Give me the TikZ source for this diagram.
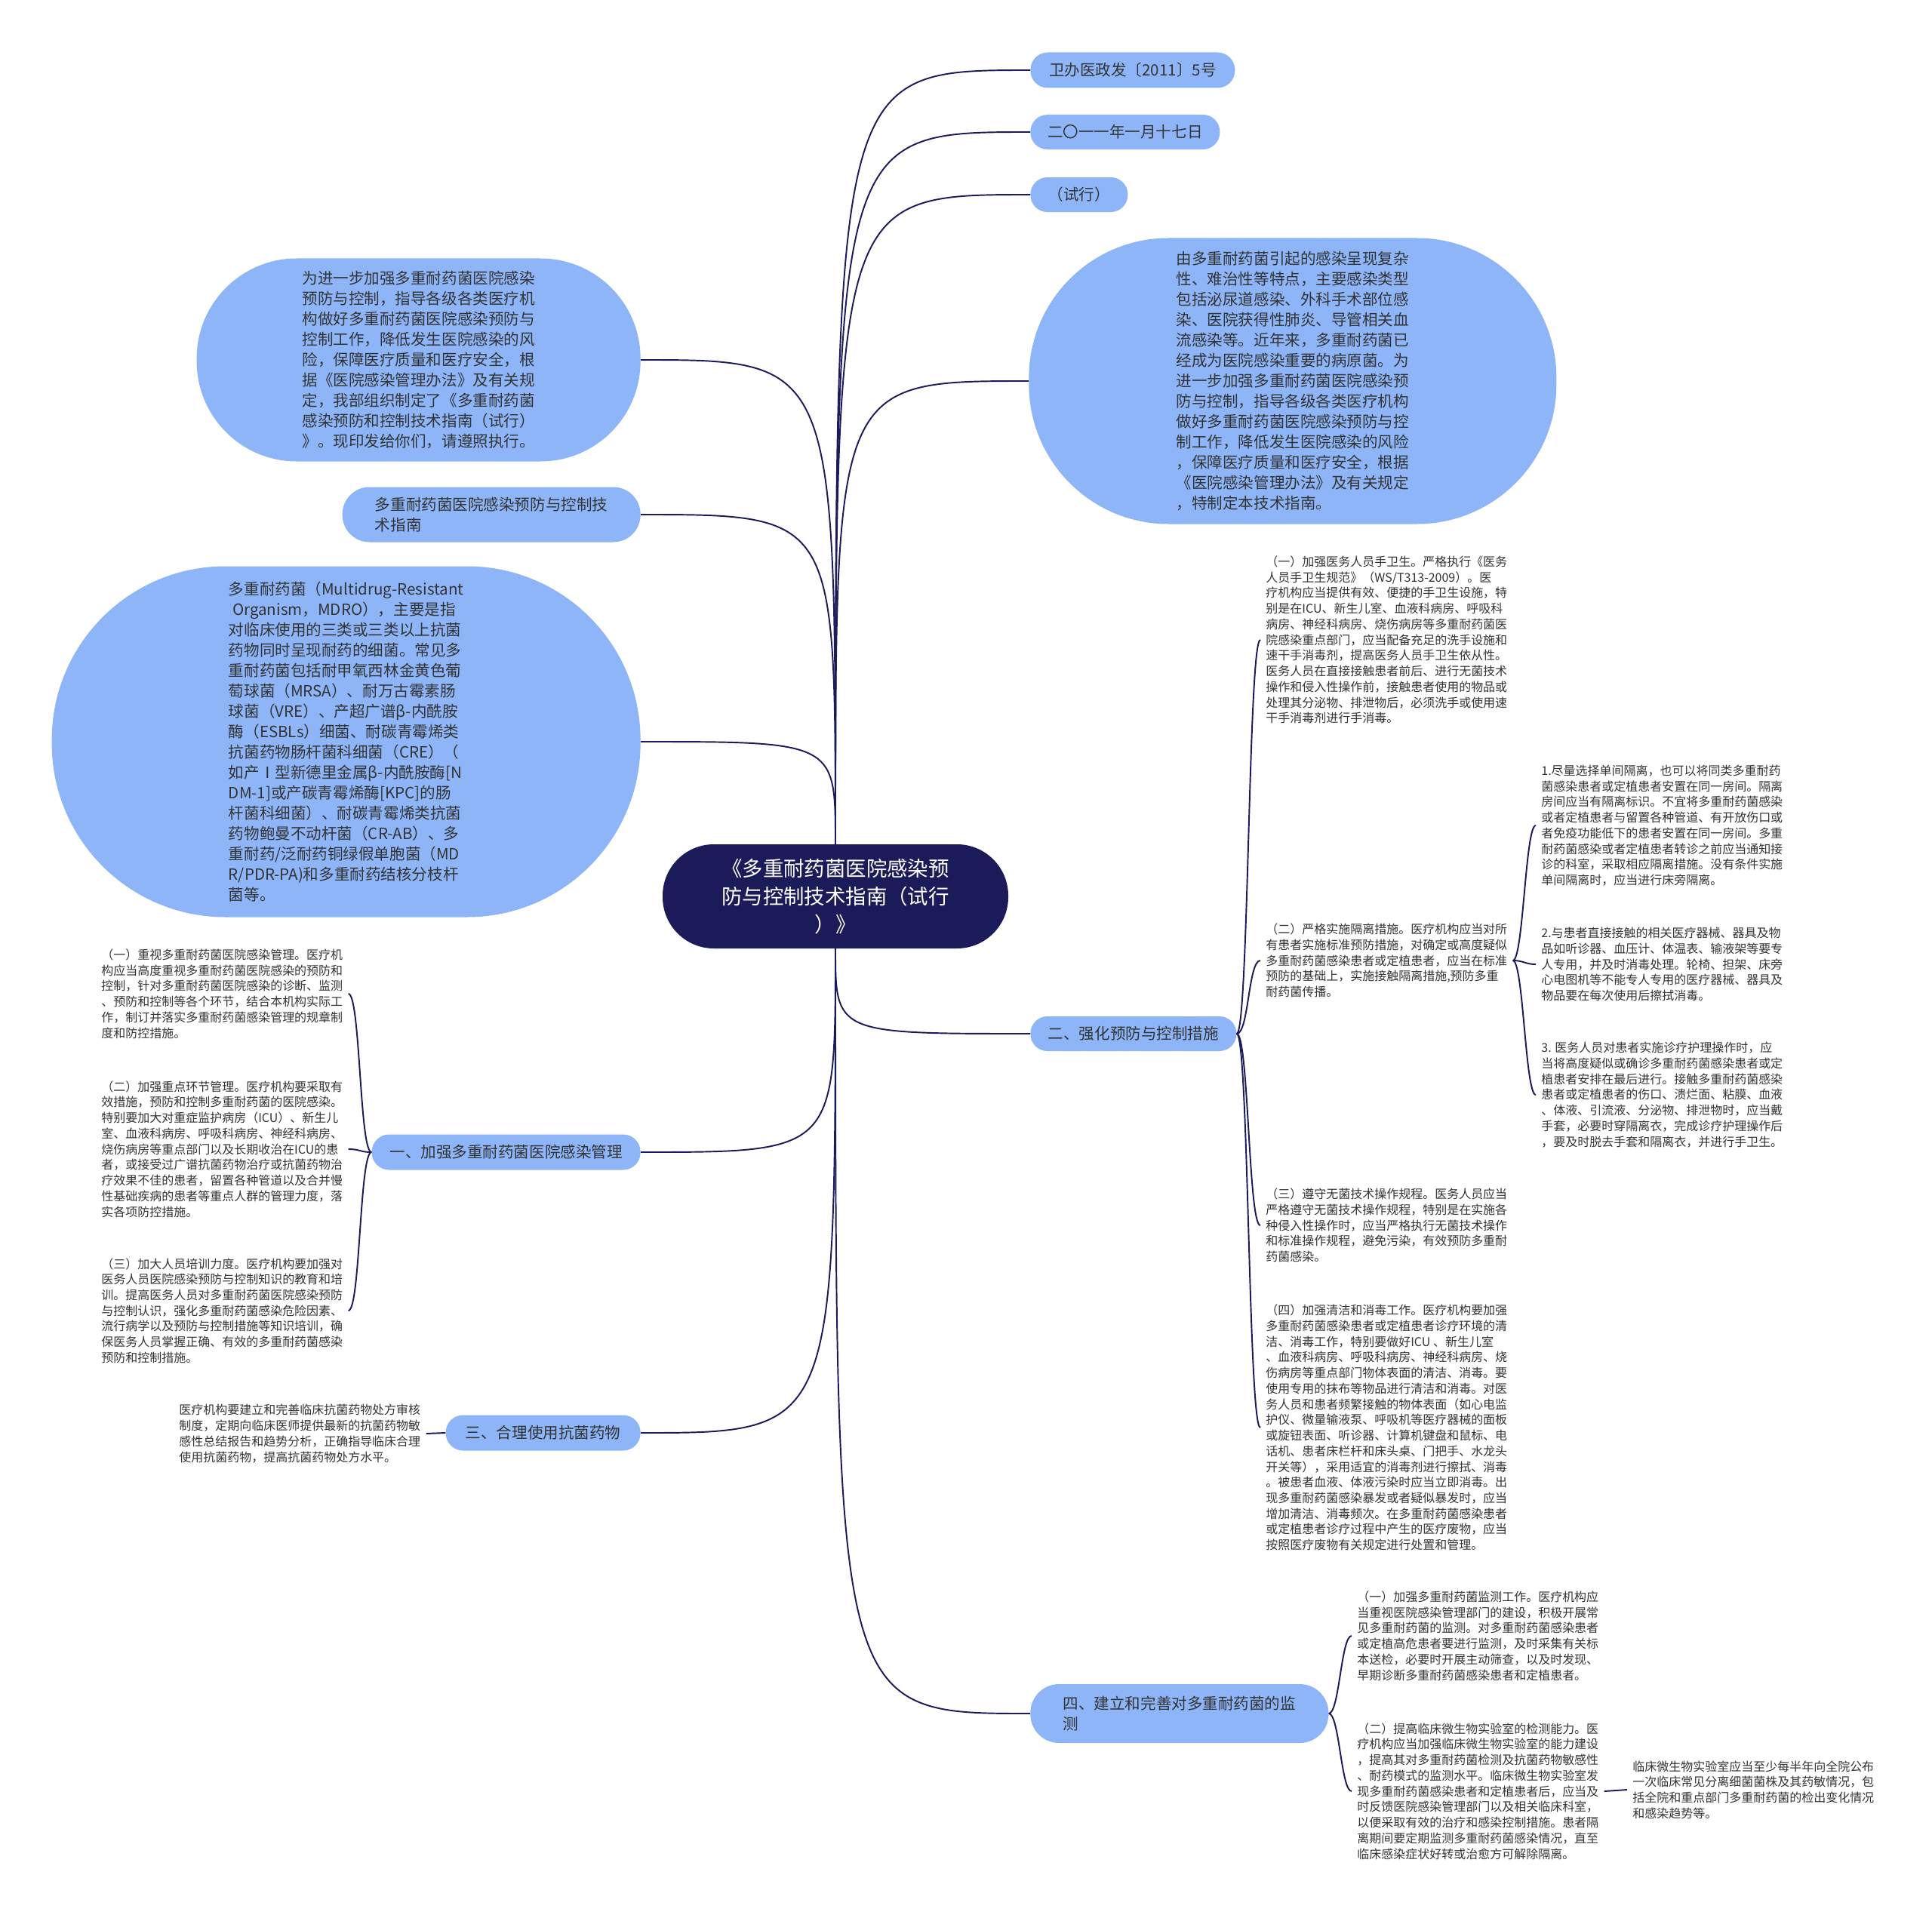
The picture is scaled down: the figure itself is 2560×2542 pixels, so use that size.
\documentclass[tikz,border=0pt]{standalone}
\usepackage{fontspec}
\setmainfont{Noto Sans CJK SC}
\usepackage{tikz}
\usetikzlibrary{calc,positioning}
\definecolor{mapnavy}{HTML}{1C1B59}
\definecolor{skyblue}{HTML}{8DB5F8}
\definecolor{inkgrey}{HTML}{333333}
\newcommand{\fsroot}{\fontsize{15.6}{21}\selectfont}
\newcommand{\fsbubble}{\fontsize{11.7}{15.4}\selectfont}
\newcommand{\fsleaf}{\fontsize{9.1}{11.8}\selectfont}

\begin{document}
\begin{tikzpicture}[x=0.2mm, y=-0.2mm,
  link/.style={draw=mapnavy, line width=1.1pt},
  root/.style={fill=mapnavy, text=white, font=\fsroot, align=center, inner sep=0pt},
  bubble/.style={fill=skyblue, text=inkgrey, font=\fsbubble, align=left, inner sep=0pt},
  leaf/.style={text=inkgrey, font=\fsleaf, align=left, inner sep=4pt}]

    \path[fill=white] (0,0) rectangle (2560,2542);

    % centre
    \node[root, minimum width=9.16cm, minimum height=2.76cm, rounded corners=1.36cm] (title) at (1107,1188)
        {《多重耐药菌医院感染预\\防与控制技术指南（试行\\）》};

    % upper branches
    \node[bubble, anchor=west, minimum width=5.42cm, minimum height=0.94cm, rounded corners=0.46cm] (docno) at (1365,93)
        {卫办医政发〔2011〕5号};
    \node[bubble, anchor=west, minimum width=5.02cm, minimum height=0.92cm, rounded corners=0.45cm] (date) at (1365,175)
        {二〇一一年一月十七日};
    \node[bubble, anchor=west, minimum width=2.58cm, minimum height=0.92cm, rounded corners=0.45cm] (trial) at (1365,258)
        {（试行）};

    \node[bubble, anchor=west, minimum width=13.98cm, minimum height=7.58cm, rounded corners=3.7cm] (background) at (1363,505)
        {由多重耐药菌引起的感染呈现复杂\\
         性、难治性等特点，主要感染类型\\
         包括泌尿道感染、外科手术部位感\\
         染、医院获得性肺炎、导管相关血\\
         流感染等。近年来，多重耐药菌已\\
         经成为医院感染重要的病原菌。为\\
         进一步加强多重耐药菌医院感染预\\
         防与控制，指导各级各类医疗机构\\
         做好多重耐药菌医院感染预防与控\\
         制工作，降低发生医院感染的风险\\
         ，保障医疗质量和医疗安全，根据\\
         《医院感染管理办法》及有关规定\\
         ，特制定本技术指南。};

    \node[bubble, anchor=east, minimum width=11.76cm, minimum height=5.38cm, rounded corners=2.65cm] (notice) at (849,477)
        {为进一步加强多重耐药菌医院感染\\
         预防与控制，指导各级各类医疗机\\
         构做好多重耐药菌医院感染预防与\\
         控制工作，降低发生医院感染的风\\
         险，保障医疗质量和医疗安全，根\\
         据《医院感染管理办法》及有关规\\
         定，我部组织制定了《多重耐药菌\\
         感染预防和控制技术指南（试行）\\
         》。现印发给你们，请遵照执行。};

    \node[bubble, anchor=east, minimum width=7.9cm, minimum height=1.46cm, rounded corners=0.72cm] (guide) at (849,682)
        {多重耐药菌医院感染预防与控制技\\术指南};

    \node[bubble, anchor=east, minimum width=15.6cm, minimum height=9.3cm, rounded corners=4.6cm] (mdro) at (849,983)
        {多重耐药菌（Multidrug-Resistant\\
         \hspace{0.25em}Organism，MDRO），主要是指\\
         对临床使用的三类或三类以上抗菌\\
         药物同时呈现耐药的细菌。常见多\\
         重耐药菌包括耐甲氧西林金黄色葡\\
         萄球菌（MRSA）、耐万古霉素肠\\
         球菌（VRE）、产超广谱β-内酰胺\\
         酶（ESBLs）细菌、耐碳青霉烯类\\
         抗菌药物肠杆菌科细菌（CRE）（\\
         如产Ⅰ型新德里金属β-内酰胺酶[N\\
         DM-1]或产碳青霉烯酶[KPC]的肠\\
         杆菌科细菌）、耐碳青霉烯类抗菌\\
         药物鲍曼不动杆菌（CR-AB）、多\\
         重耐药/泛耐药铜绿假单胞菌（MD\\
         R/PDR-PA)和多重耐药结核分枝杆\\
         菌等。};

    % lower branches
    \node[bubble, anchor=west, minimum width=5.46cm, minimum height=0.92cm, rounded corners=0.45cm] (sectwo) at (1365,1370)
        {二、强化预防与控制措施};
    \node[bubble, anchor=east, minimum width=7.12cm, minimum height=0.94cm, rounded corners=0.46cm] (secone) at (849,1527)
        {一、加强多重耐药菌医院感染管理};
    \node[bubble, anchor=east, minimum width=5.16cm, minimum height=0.94cm, rounded corners=0.46cm] (secthree) at (849,1899)
        {三、合理使用抗菌药物};
    \node[bubble, anchor=west, minimum width=7.9cm, minimum height=1.56cm, rounded corners=0.76cm] (secfour) at (1365,2271)
        {四、建立和完善对多重耐药菌的监\\测};

    % leaves of section two
    \node[leaf, anchor=west] (handwash) at (1670,848)
        {（一）加强医务人员手卫生。严格执行《医务\\
         人员手卫生规范》（WS/T313-2009）。医\\
         疗机构应当提供有效、便捷的手卫生设施，特\\
         别是在ICU、新生儿室、血液科病房、呼吸科\\
         病房、神经科病房、烧伤病房等多重耐药菌医\\
         院感染重点部门，应当配备充足的洗手设施和\\
         速干手消毒剂，提高医务人员手卫生依从性。\\
         医务人员在直接接触患者前后、进行无菌技术\\
         操作和侵入性操作前，接触患者使用的物品或\\
         处理其分泌物、排泄物后，必须洗手或使用速\\
         干手消毒剂进行手消毒。};
    \node[leaf, anchor=west] (isolate) at (1670,1273)
        {（二）严格实施隔离措施。医疗机构应当对所\\
         有患者实施标准预防措施，对确定或高度疑似\\
         多重耐药菌感染患者或定植患者，应当在标准\\
         预防的基础上，实施接触隔离措施,预防多重\\
         耐药菌传播。};
    \node[leaf, anchor=west] (aseptic) at (1670,1624)
        {（三）遵守无菌技术操作规程。医务人员应当\\
         严格遵守无菌技术操作规程，特别是在实施各\\
         种侵入性操作时，应当严格执行无菌技术操作\\
         和标准操作规程，避免污染，有效预防多重耐\\
         药菌感染。};
    \node[leaf, anchor=west] (clean) at (1670,1892)
        {（四）加强清洁和消毒工作。医疗机构要加强\\
         多重耐药菌感染患者或定植患者诊疗环境的清\\
         洁、消毒工作，特别要做好ICU 、新生儿室\\
         、血液科病房、呼吸科病房、神经科病房、烧\\
         伤病房等重点部门物体表面的清洁、消毒。要\\
         使用专用的抹布等物品进行清洁和消毒。对医\\
         务人员和患者频繁接触的物体表面（如心电监\\
         护仪、微量输液泵、呼吸机等医疗器械的面板\\
         或旋钮表面、听诊器、计算机键盘和鼠标、电\\
         话机、患者床栏杆和床头桌、门把手、水龙头\\
         开关等），采用适宜的消毒剂进行擦拭、消毒\\
         。被患者血液、体液污染时应当立即消毒。出\\
         现多重耐药菌感染暴发或者疑似暴发时，应当\\
         增加清洁、消毒频次。在多重耐药菌感染患者\\
         或定植患者诊疗过程中产生的医疗废物，应当\\
         按照医疗废物有关规定进行处置和管理。};

    % isolation details
    \node[leaf, anchor=west] (single) at (2035,1094)
        {1.尽量选择单间隔离，也可以将同类多重耐药\\
         菌感染患者或定植患者安置在同一房间。隔离\\
         房间应当有隔离标识。不宜将多重耐药菌感染\\
         或者定植患者与留置各种管道、有开放伤口或\\
         者免疫功能低下的患者安置在同一房间。多重\\
         耐药菌感染或者定植患者转诊之前应当通知接\\
         诊的科室，采取相应隔离措施。没有条件实施\\
         单间隔离时，应当进行床旁隔离。};
    \node[leaf, anchor=west] (equip) at (2035,1278)
        {2.与患者直接接触的相关医疗器械、器具及物\\
         品如听诊器、血压计、体温表、输液架等要专\\
         人专用，并及时消毒处理。轮椅、担架、床旁\\
         心电图机等不能专人专用的医疗器械、器具及\\
         物品要在每次使用后擦拭消毒。};
    \node[leaf, anchor=west] (order) at (2035,1451)
        {3. 医务人员对患者实施诊疗护理操作时，应\\
         当将高度疑似或确诊多重耐药菌感染患者或定\\
         植患者安排在最后进行。接触多重耐药菌感染\\
         患者或定植患者的伤口、溃烂面、粘膜、血液\\
         、体液、引流液、分泌物、排泄物时，应当戴\\
         手套，必要时穿隔离衣，完成诊疗护理操作后\\
         ，要及时脱去手套和隔离衣，并进行手卫生。};

    % leaves of section one
    \node[leaf, anchor=west] (manage) at (127,1317)
        {（一）重视多重耐药菌医院感染管理。医疗机\\
         构应当高度重视多重耐药菌医院感染的预防和\\
         控制，针对多重耐药菌医院感染的诊断、监测\\
         、预防和控制等各个环节，结合本机构实际工\\
         作，制订并落实多重耐药菌感染管理的规章制\\
         度和防控措施。};
    \node[leaf, anchor=west] (keylink) at (127,1523)
        {（二）加强重点环节管理。医疗机构要采取有\\
         效措施，预防和控制多重耐药菌的医院感染。\\
         特别要加大对重症监护病房（ICU）、新生儿\\
         室、血液科病房、呼吸科病房、神经科病房、\\
         烧伤病房等重点部门以及长期收治在ICU的患\\
         者，或接受过广谱抗菌药物治疗或抗菌药物治\\
         疗效果不佳的患者，留置各种管道以及合并慢\\
         性基础疾病的患者等重点人群的管理力度，落\\
         实各项防控措施。};
    \node[leaf, anchor=west] (training) at (127,1737)
        {（三）加大人员培训力度。医疗机构要加强对\\
         医务人员医院感染预防与控制知识的教育和培\\
         训。提高医务人员对多重耐药菌医院感染预防\\
         与控制认识，强化多重耐药菌感染危险因素、\\
         流行病学以及预防与控制措施等知识培训，确\\
         保医务人员掌握正确、有效的多重耐药菌感染\\
         预防和控制措施。};

    % leaf of section three
    \node[leaf, anchor=west] (rx) at (230,1900)
        {医疗机构要建立和完善临床抗菌药物处方审核\\
         制度，定期向临床医师提供最新的抗菌药物敏\\
         感性总结报告和趋势分析，正确指导临床合理\\
         使用抗菌药物，提高抗菌药物处方水平。};

    % leaves of section four
    \node[leaf, anchor=west] (monitor) at (1791,2168)
        {（一）加强多重耐药菌监测工作。医疗机构应\\
         当重视医院感染管理部门的建设，积极开展常\\
         见多重耐药菌的监测。对多重耐药菌感染患者\\
         或定植高危患者要进行监测，及时采集有关标\\
         本送检，必要时开展主动筛查，以及时发现、\\
         早期诊断多重耐药菌感染患者和定植患者。};
    \node[leaf, anchor=west] (lab) at (1791,2374)
        {（二）提高临床微生物实验室的检测能力。医\\
         疗机构应当加强临床微生物实验室的能力建设\\
         ，提高其对多重耐药菌检测及抗菌药物敏感性\\
         、耐药模式的监测水平。临床微生物实验室发\\
         现多重耐药菌感染患者和定植患者后，应当及\\
         时反馈医院感染管理部门以及相关临床科室，\\
         以便采取有效的治疗和感染控制措施。患者隔\\
         离期间要定期监测多重耐药菌感染情况，直至\\
         临床感染症状好转或治愈方可解除隔离。};
    \node[leaf, anchor=west] (publish) at (2156,2372)
        {临床微生物实验室应当至少每半年向全院公布\\
         一次临床常见分离细菌菌株及其药敏情况，包\\
         括全院和重点部门多重耐药菌的检出变化情况\\
         和感染趋势等。};

    % branches from the centre
    \draw[link] (title.north) .. controls (title.north |- docno.west) .. (docno.west);
    \draw[link] (title.north) .. controls (title.north |- date.west) .. (date.west);
    \draw[link] (title.north) .. controls (title.north |- trial.west) .. (trial.west);
    \draw[link] (title.north) .. controls (title.north |- background.west) .. (background.west);
    \draw[link] (title.north) .. controls (title.north |- notice.east) .. (notice.east);
    \draw[link] (title.north) .. controls (title.north |- guide.east) .. (guide.east);
    \draw[link] (title.north) .. controls (title.north |- mdro.east) .. (mdro.east);
    \draw[link] (title.south) .. controls (title.south |- sectwo.west) .. (sectwo.west);
    \draw[link] (title.south) .. controls (title.south |- secfour.west) .. (secfour.west);
    \draw[link] (title.south) .. controls (title.south |- secone.east) .. (secone.east);
    \draw[link] (title.south) .. controls (title.south |- secthree.east) .. (secthree.east);

    % brackets
    \foreach \kid in {handwash, isolate, aseptic, clean}
        \draw[link] (sectwo.east) .. controls +(16,0) and +(-16,0) .. (\kid.west);
    \foreach \kid in {single, equip, order}
        \draw[link] (isolate.east) .. controls +(14,0) and +(-14,0) .. (\kid.west);
    \foreach \kid in {manage, keylink, training}
        \draw[link] (secone.west) .. controls +(-16,0) and +(16,0) .. (\kid.east);
    \foreach \kid in {monitor, lab}
        \draw[link] (secfour.east) .. controls +(14,0) and +(-14,0) .. (\kid.west);
    \draw[link] (secthree.west) -- (rx.east);
    \draw[link] (lab.east) -- (publish.west);

\end{tikzpicture}
\end{document}
